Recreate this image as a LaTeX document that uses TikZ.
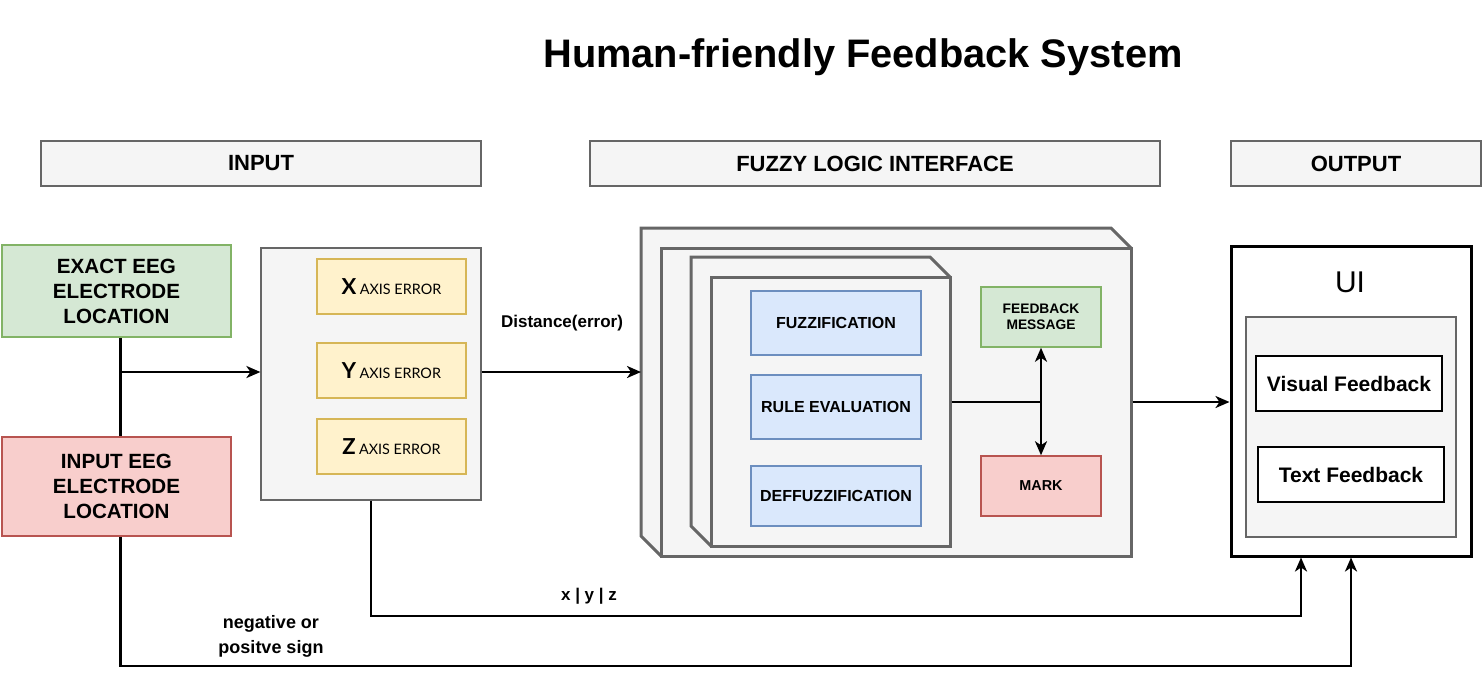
\documentclass[tikz,border=0pt]{standalone}
\usepackage{fontspec}
\setmainfont{Liberation Sans}
\newfontfamily\latofont{Lato}
\usetikzlibrary{arrows.meta,calc}
\definecolor{grayfill}{HTML}{F5F5F5}
\definecolor{grayline}{HTML}{666666}
\definecolor{greenfill}{HTML}{D5E8D4}
\definecolor{greenline}{HTML}{82B366}
\definecolor{redfill}{HTML}{F8CECC}
\definecolor{redline}{HTML}{B85450}
\definecolor{yellowfill}{HTML}{FFF2CC}
\definecolor{yellowline}{HTML}{D6B656}
\definecolor{bluefill}{HTML}{DAE8FC}
\definecolor{blueline}{HTML}{6C8EBF}
\newcommand{\fsz}[2]{\fontsize{#1}{#2}\selectfont}
\newcommand{\block}[7]{\node[#1, minimum width={(#5-#3)*0.5pt}, minimum height={(#6-#4)*0.5pt}] (#2) at ({(#3+#5)/2},{(#4+#6)/2}) {#7};}
\newcommand{\slab}[5]{\filldraw[slabline] (#1-#5,#2-#5) -- (#3-#5,#2-#5) -- (#3,#2) -- (#3,#4) -- (#1,#4) -- (#1-#5,#4-#5) -- cycle;}
\newcommand{\axislabel}[1]{{\latofont\bfseries\fsz{11}{13}#1}\,{\latofont\fsz{7.2}{9}AXIS ERROR}}
\tikzset{
  header/.style={draw=grayline, fill=grayfill, line width=1pt, inner sep=0pt, font=\bfseries\fsz{11}{13}},
  source/.style={line width=1pt, inner sep=0pt, align=center, font=\bfseries\fsz{10.3}{12.5}},
  errorbox/.style={draw=yellowline, fill=yellowfill, line width=0.75pt, inner sep=0pt},
  stagebox/.style={draw=blueline, fill=bluefill, line width=0.75pt, inner sep=0pt, font=\bfseries\fsz{8}{10}},
  slabline/.style={draw=grayline, fill=grayfill, line width=1.5pt, line join=miter},
  uibox/.style={draw=black, fill=white, line width=1pt, inner sep=0pt, font=\bfseries\fsz{10.5}{12}},
  wire/.style={line width=1.2pt},
  arrow/.style={wire, -{Stealth[length=7pt, width=6pt, inset=2pt]}},
  caption/.style={font=\bfseries\fsz{8.5}{12.5}, align=center, inner sep=0pt}
}

\begin{document}
\begin{tikzpicture}[x=0.5pt, y=-0.5pt]
    \useasboundingbox (0,0) rectangle (1483,676);

    % title and headers
    \node[font=\bfseries\fsz{19.9}{24}] (title) at (863,57) {Human-friendly Feedback System};
    \block{header}{hin}{41}{141}{481}{186}{INPUT}
    \block{header}{hfli}{590}{141}{1160}{186}{FUZZY LOGIC INTERFACE}
    \block{header}{hout}{1231}{141}{1481}{186}{OUTPUT}

    % input
    \block{source, draw=greenline, fill=greenfill}{exact}{2}{245}{231}{337}{EXACT EEG\\ELECTRODE\\LOCATION}
    \block{source, draw=redline, fill=redfill}{given}{2}{437}{231}{536}{INPUT EEG\\ELECTRODE\\LOCATION}
    \block{draw=grayline, fill=grayfill, line width=0.6pt, inner sep=0pt}{axis}{261}{248}{481}{500}{}
    \block{errorbox}{xerr}{317}{259}{466}{314}{\axislabel{X}}
    \block{errorbox}{yerr}{317}{343}{466}{398}{\axislabel{Y}}
    \block{errorbox}{zerr}{317}{419}{466}{474}{\axislabel{Z}}

    % fuzzy logic interface
    \slab{661}{248}{1131}{556}{20}
    \block{slabline, inner sep=0pt}{fli}{661}{248}{1131}{556}{}
    \slab{711}{277}{950}{546}{20}
    \block{slabline, inner sep=0pt}{engine}{711}{277}{950}{546}{}
    \block{stagebox}{fuzz}{751}{291}{921}{355}{FUZZIFICATION}
    \block{stagebox}{rules}{751}{375}{921}{439}{RULE EVALUATION}
    \block{stagebox}{defuzz}{751}{466}{921}{526}{DEFFUZZIFICATION}
    \block{draw=greenline, fill=greenfill, line width=0.75pt, inner sep=0pt, align=center, font=\bfseries\fsz{6.9}{8}}{msg}{981}{287}{1101}{347}{FEEDBACK\\MESSAGE}
    \block{draw=redline, fill=redfill, line width=0.75pt, inner sep=0pt, font=\bfseries\fsz{7.2}{8}}{mark}{981}{456}{1101}{516}{MARK}

    % output
    \block{draw=black, fill=white, line width=1.5pt, inner sep=0pt}{ui}{1231}{246}{1471}{556}{}
    \node[font=\fsz{15}{17}] (uititle) at (1350,282) {UI};
    \block{draw=grayline, fill=grayfill, line width=1pt, inner sep=0pt}{uipanel}{1246}{317}{1456}{537}{}
    \block{uibox}{visual}{1256}{356}{1442}{411}{Visual Feedback}
    \block{uibox}{textfb}{1258}{447}{1444}{502}{Text Feedback}

    % connectors
    \draw[wire] ([xshift=2pt]exact.south) -- ([xshift=2pt]given.north);
    \coordinate (split) at ([xshift=2pt]exact.south |- 0,372);
    \draw[arrow] (split) -- (split -| axis.west);
    \coordinate (flileft) at (641,372);
    \draw[arrow] (split -| axis.east) -- (flileft);
    \node[caption] (dist) at (562,323) {Distance(error)};
    \coordinate (hub) at (1041,402);
    \draw[wire] (hub -| engine.east) -- (hub);
    \draw[arrow] (hub) -- (msg.south);
    \draw[arrow] (hub) -- (mark.north);
    \draw[arrow] (fli.east) -- (fli.east -| ui.west);
    \coordinate (xyzturn) at (1301,616);
    \draw[arrow] (axis.south) |- (xyzturn) -- (xyzturn |- ui.south);
    \node[caption] (xyz) at (589,596) {x | y | z};
    \coordinate (signturn) at (ui.south |- 0,666);
    \draw[arrow] ([xshift=2pt]given.south) |- (signturn) -- (ui.south);
    \node[caption, font=\bfseries\fsz{9}{12.5}] (sign) at (271,636) {negative or\\positve sign};
\end{tikzpicture}
\end{document}
